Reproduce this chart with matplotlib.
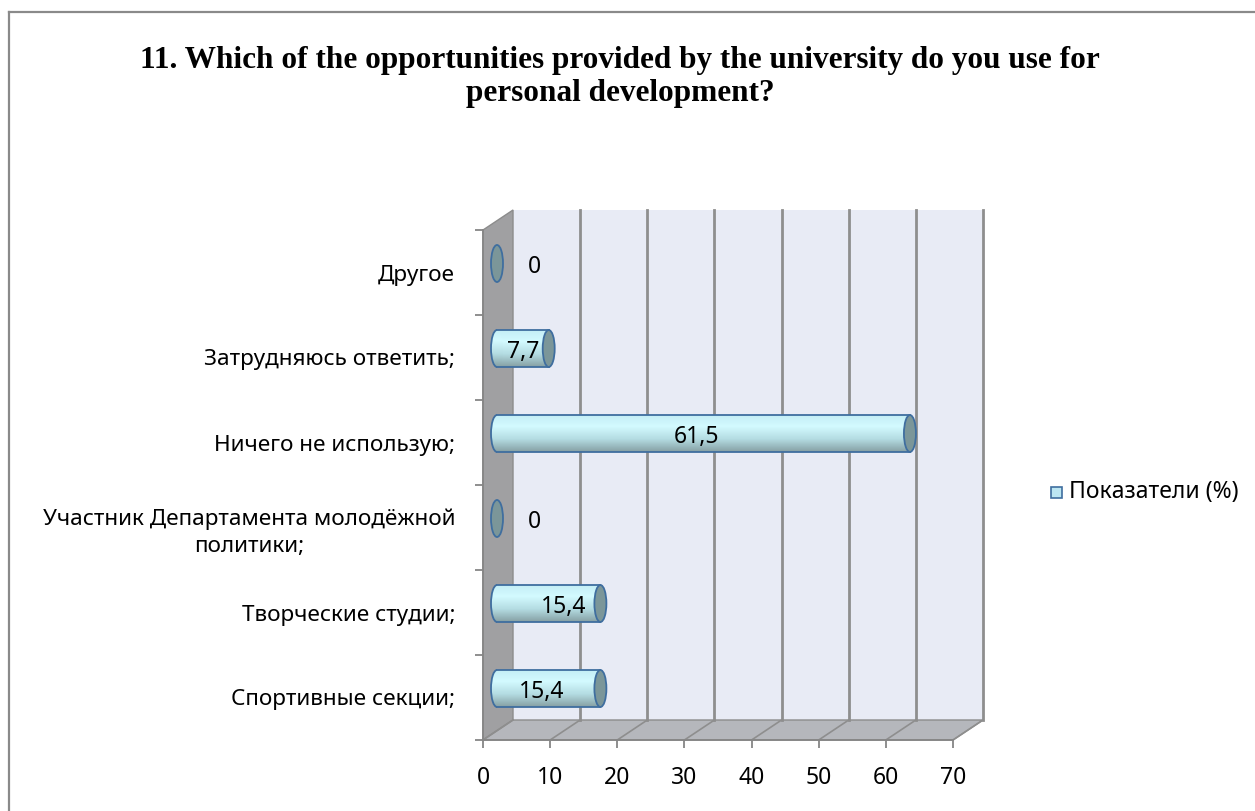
import matplotlib
matplotlib.use("Agg")
import matplotlib.pyplot as plt
import numpy as np
from matplotlib.patches import Polygon, Rectangle, Ellipse, Arc
from matplotlib.lines import Line2D
from matplotlib.colors import LinearSegmentedColormap

# data (bottom -> top as drawn)
categories = ["Спортивные секции;", "Творческие студии;",
              "Участник Департамента молодёжной\nполитики;",
              "Ничего не использую;", "Затрудняюсь ответить;", "Другое"]
values = [15.4, 15.4, 0, 61.5, 7.7, 0]
value_labels = ["15,4", "15,4", "0", "61,5", "7,7", "0"]
x_ticks = [0, 10, 20, 30, 40, 50, 60, 70]
series_name = "Показатели (%)"
title = "11. Which of the opportunities provided by the university do you use for\npersonal development?"

# label shift along the bar (layout only, in axis units)
label_shift = [-1.0, 2.2, 0, -1.0, 0, 0]

plt.rcParams['font.family'] = ['Noto Sans', 'DejaVu Sans']

W, H = 1255, 811
fig = plt.figure(figsize=(W / 100, H / 100), dpi=100)

# front plane of the 3d box in pixels
px0, px1, py_top, py_bot = 483, 953, 230, 740
ax = fig.add_axes([px0 / W, 1 - py_bot / H, (px1 - px0) / W, (py_bot - py_top) / H])
xmax = 70
n = len(categories)

sx = (px1 - px0) / xmax          # px per unit
sy = (py_bot - py_top) / n       # px per category
DX, DY = 30 / sx, 20 / sy        # depth of the box
cdx, cdy = 14 / sx, 9 / sy       # cylinder depth position
ch = 37 / sy                     # cylinder thickness
ew = 12 / sx                     # end ellipse width

y0, y1 = -0.5, n - 0.5
# back wall
ax.add_patch(Polygon([(DX, y0 + DY), (xmax + DX, y0 + DY), (xmax + DX, y1 + DY), (DX, y1 + DY)],
                     closed=True, facecolor="#E8EBF5", edgecolor="none", clip_on=False, zorder=0))
# side wall
ax.add_patch(Polygon([(0, y0), (DX, y0 + DY), (DX, y1 + DY), (0, y1)],
                     closed=True, facecolor="#A0A0A2", edgecolor="#8C8C8C", lw=1, clip_on=False, zorder=1))
# floor
ax.add_patch(Polygon([(0, y0), (xmax, y0), (xmax + DX, y0 + DY), (DX, y0 + DY)],
                     closed=True, facecolor="#B5B7BC", edgecolor="#8C8C8C", lw=1, clip_on=False, zorder=1))
# grid on the back wall and floor
for xv in x_ticks:
    if xv > 0:
        ax.add_line(Line2D([xv + DX, xv + DX], [y0 + DY, y1 + DY], color="#8E8E8E", lw=2.0,
                           clip_on=False, zorder=2))
    ax.add_line(Line2D([xv, xv + DX], [y0, y0 + DY], color="#8E8E8E", lw=1.2, clip_on=False, zorder=2))

# gradient for the cylinder body
cyl_cmap = LinearSegmentedColormap.from_list("cyl", [(0, "#86A0A4"), (0.35, "#B4DCE2"),
                                                     (0.7, "#D3FAFF"), (1.0, "#C4EEF6")])
grad_img = np.linspace(0, 1, 64).reshape(-1, 1)
edge_c = "#3F6E9F"
end_c = "#7B9699"

for i, v in enumerate(values):
    yc = i + cdy
    xl = cdx
    xr = cdx + v
    if v > 0:
        body = Rectangle((xl, yc - ch / 2), v, ch, transform=ax.transData)
        lend = Ellipse((xl, yc), ew, ch, transform=ax.transData)
        for clip in (body, lend):
            im = ax.imshow(grad_img, extent=[xl - ew / 2, xr, yc - ch / 2, yc + ch / 2],
                           origin="lower", cmap=cyl_cmap, aspect="auto", zorder=3,
                           interpolation="bilinear")
            im.set_clip_path(clip)
        ax.add_line(Line2D([xl, xr], [yc + ch / 2, yc + ch / 2], color=edge_c, lw=1.3, zorder=4))
        ax.add_line(Line2D([xl, xr], [yc - ch / 2, yc - ch / 2], color=edge_c, lw=1.3, zorder=4))
        ax.add_patch(Arc((xl, yc), ew, ch, theta1=90, theta2=270, color=edge_c, lw=1.3, zorder=4))
    ax.add_patch(Ellipse((xr, yc), ew, ch, facecolor=end_c, edgecolor=edge_c, lw=1.3, zorder=5))
    # value label
    if v > 0:
        lx = xl + v / 2 + label_shift[i]
    else:
        lx = 7.7
    ax.text(lx, yc - 0.04, value_labels[i], ha="center", va="center", fontsize=16.5,
            color="black", zorder=6)

ax.set_xlim(0, xmax)
ax.set_ylim(y0, y1)

# axes lines and ticks
for s in ["top", "right"]:
    ax.spines[s].set_visible(False)
for s in ["left", "bottom"]:
    ax.spines[s].set_color("#868686")
    ax.spines[s].set_linewidth(1.3)
    ax.spines[s].set_zorder(2.5)
ax.patch.set_visible(False)
ax.set_xticks(x_ticks)
ax.set_xticklabels([str(t) for t in x_ticks], fontsize=16.5)
ax.set_yticks(range(n))
ax.set_yticklabels(categories, fontsize=16.2, multialignment="center", linespacing=1.35)
ax.set_yticks(np.arange(-0.5, n, 1.0), minor=True)
ax.tick_params(axis="x", which="major", length=6, width=1.3, color="#868686", pad=13)
ax.tick_params(axis="y", which="major", length=0, pad=20)
ax.tick_params(axis="y", which="minor", length=6, width=1.3, color="#868686")

# legend
fig.patches.append(Rectangle((1051 / W, 1 - 498 / H), 11 / W, 11 / H, transform=fig.transFigure,
                             facecolor="#BCE6F2", edgecolor=edge_c, lw=1.2))
fig.text(1069 / W, 1 - 492 / H, series_name, ha="left", va="center", fontsize=16.5)

# title
fig.text(620 / W, 1 - 77 / H, title, ha="center", va="center", fontsize=22.5,
         fontweight="bold", family="Liberation Serif", linespacing=1.15)

# outer frame
fig.add_artist(Line2D([9 / W, 9 / W], [0, 1 - 12 / H], color="#8A8A8A", lw=1.6,
                      transform=fig.transFigure))
fig.add_artist(Line2D([9 / W, 1], [1 - 12 / H, 1 - 12 / H], color="#8A8A8A", lw=1.6,
                      transform=fig.transFigure))

fig.savefig("out.png", dpi=100)
